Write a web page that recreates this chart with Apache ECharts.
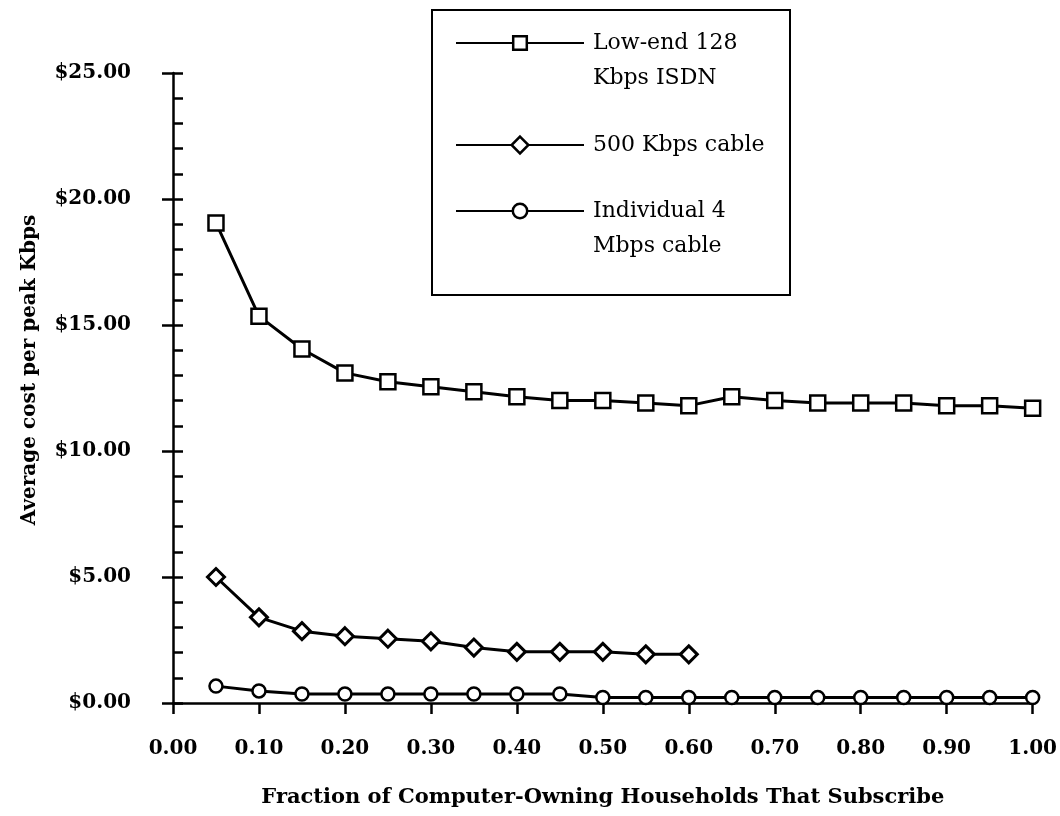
<!DOCTYPE html>
<html>
<head>
<meta charset="utf-8">
<script src="https://cdn.jsdelivr.net/npm/echarts@6/dist/echarts.min.js"></script>
<style>html,body{margin:0;padding:0;background:#fff;}#c{width:1060px;height:816px;}</style>
</head>
<body>
<div id="c"></div>
<script>
var fractions = [0.05,0.10,0.15,0.20,0.25,0.30,0.35,0.40,0.45,0.50,0.55,0.60,0.65,0.70,0.75,0.80,0.85,0.90,0.95,1.00];
var isdn128 = [19.05,15.35,14.05,13.1,12.75,12.55,12.35,12.15,12.0,12.0,11.9,11.8,12.15,12.0,11.9,11.9,11.9,11.8,11.8,11.7];
var cable500 = [5.0,3.4,2.85,2.65,2.55,2.45,2.2,2.03,2.03,2.03,1.93,1.93];
var individual4 = [0.67,0.48,0.36,0.36,0.36,0.36,0.36,0.36,0.36,0.22,0.22,0.22,0.22,0.22,0.22,0.22,0.22,0.22,0.22,0.22];
var seriesNames = ['Low-end 128\nKbps ISDN','500 Kbps cable','Individual 4\nMbps cable'];
var xTitle = 'Fraction of Computer-Owning Households That Subscribe';
var yTitle = 'Average cost per peak Kbps';

function pairs(vals){ return vals.map(function(v,i){ return [fractions[i], v]; }); }

var FONT = 'DejaVu Serif';
var blk = '#000';
var itemStyle = {color:'#fff', borderColor:blk, borderWidth:2.5};
var lineStyle = {color:blk, width:3};

function legendFor(name, top, twoLine, iconH){
  return {
    show:true, orient:'vertical', left:455, top:top, padding:0,
    itemWidth:128, itemHeight:iconH, selectedMode:false,
    data:[name],
    formatter:function(n){ return twoLine ? '\n' + n : n; },
    textStyle:{fontFamily:FONT, fontSize:22, color:blk, lineHeight:35, padding:[0,0,0,4]},
    lineStyle:{width:2, color:blk},
    itemStyle:{color:'#fff', borderColor:blk, borderWidth:2.5}
  };
}

var chart = echarts.init(document.getElementById('c'), null, {renderer:'canvas'});
chart.setOption({
  animation:false,
  backgroundColor:'#fff',
  grid:{left:173, right:26, top:73, bottom:113, containLabel:false},
  graphic:[{type:'rect', shape:{x:432, y:10, width:358, height:285}, style:{fill:'none', stroke:blk, lineWidth:2}, z:10}],
  legend:[
    legendFor(seriesNames[0], -9.5, true, 17),
    legendFor(seriesNames[1], 127.5, false, 21),
    legendFor(seriesNames[2], 158.5, true, 18)
  ],
  xAxis:{
    type:'value', min:0, max:1, interval:0.1,
    name:xTitle, nameLocation:'middle', nameGap:84,
    nameTextStyle:{fontFamily:FONT, fontSize:21, fontWeight:'bold', color:blk},
    axisLine:{show:true, onZero:false, lineStyle:{color:blk, width:2.5}},
    axisTick:{show:true, inside:false, length:11, lineStyle:{color:blk, width:2.5}},
    axisLabel:{margin:36, fontFamily:FONT, fontSize:20, fontWeight:'bold', color:blk, showMaxLabel:true, showMinLabel:true,
      formatter:function(v){ return v.toFixed(2); }},
    splitLine:{show:false}
  },
  yAxis:[{
    type:'value', min:0, max:25, interval:5, position:'left',
    name:yTitle, nameLocation:'middle', nameGap:133, nameRotate:90,
    nameTextStyle:{fontFamily:FONT, fontSize:20, fontWeight:'bold', color:blk, padding:[0,0,0,36]},
    axisLine:{show:true, onZero:false, lineStyle:{color:blk, width:2.5}},
    axisTick:{show:true, inside:true, length:10, lineStyle:{color:blk, width:2.5}},
    minorTick:{show:true, splitNumber:5, length:10, lineStyle:{color:blk, width:2.5}},
    axisLabel:{margin:42, fontFamily:FONT, fontSize:20, fontWeight:'bold', color:blk,
      formatter:function(v){ return '$' + v.toFixed(2); }},
    splitLine:{show:false}, minorSplitLine:{show:false}
  },{
    type:'value', min:0, max:25, interval:5, position:'left',
    axisLine:{show:false},
    axisTick:{show:true, inside:false, length:11, lineStyle:{color:blk, width:2.5}},
    axisLabel:{show:false}, splitLine:{show:false}
  }],
  series:[
    {name:seriesNames[0], type:'line', data:pairs(isdn128), symbol:'rect', symbolSize:15, showAllSymbol:true,
     itemStyle:itemStyle, lineStyle:lineStyle, z:3},
    {name:seriesNames[1], type:'line', data:pairs(cable500), symbol:'diamond', symbolSize:17, showAllSymbol:true,
     itemStyle:{color:'#fff', borderColor:blk, borderWidth:3}, lineStyle:lineStyle, z:3},
    {name:seriesNames[2], type:'line', data:pairs(individual4), symbol:'circle', symbolSize:13, showAllSymbol:true,
     itemStyle:itemStyle, lineStyle:lineStyle, z:3}
  ]
});
</script>
</body>
</html>
